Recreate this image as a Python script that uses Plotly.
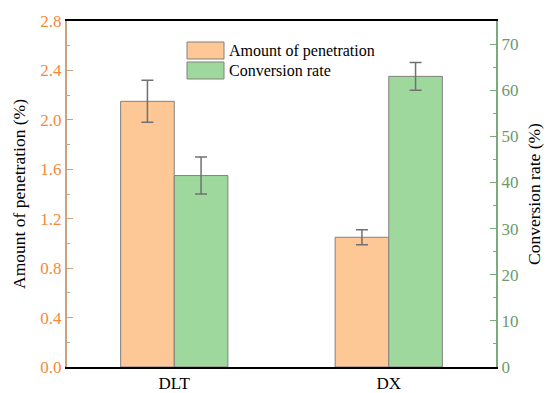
import plotly.graph_objects as go

categories = ["DLT", "DX"]
penetration = [2.15, 1.05]
penetration_err = [0.17, 0.06]
conversion = [41.5, 63.0]
conversion_err = [4.0, 3.0]
left_ticks = [0.0, 0.4, 0.8, 1.2, 1.6, 2.0, 2.4, 2.8]
right_ticks = [0, 10, 20, 30, 40, 50, 60, 70]

FONT = "Liberation Serif"
ORANGE_TXT = "#f5893a"
TAN_LINE = "#c9a47e"
GREEN_TXT = "#6a9a6a"
GREEN_LINE = "#7aab7a"
ORANGE_FILL = "#fdc896"
GREEN_FILL = "#9fd89c"
EDGE = "#808080"

fig = go.Figure()
fig.add_trace(go.Bar(
    x=categories, y=penetration, name="Amount of penetration",
    width=0.25, offset=-0.25,
    marker=dict(color=ORANGE_FILL, line=dict(color=EDGE, width=1)),
    error_y=dict(type="data", array=penetration_err, color="#707070", thickness=1.5, width=6),
    yaxis="y", showlegend=False,
))
fig.add_trace(go.Bar(
    x=categories, y=conversion, name="Conversion rate",
    width=0.25, offset=0,
    marker=dict(color=GREEN_FILL, line=dict(color=EDGE, width=1)),
    error_y=dict(type="data", array=conversion_err, color="#707070", thickness=1.5, width=6),
    yaxis="y2", showlegend=False,
))

W, H = 546, 393
L, R, T, B = 67, 496, 21, 367

fig.update_layout(
    width=W, height=H,
    margin=dict(l=L, r=W - R, t=T, b=H - B, pad=0, autoexpand=False),
    paper_bgcolor="white", plot_bgcolor="white",
    font=dict(family=FONT, size=16, color="black"),
    barmode="overlay",
    xaxis=dict(
        type="category", range=[-0.5, 1.5], automargin=False,
        showline=True, linecolor="black", linewidth=1.5, mirror=True,
        ticks="", showgrid=False, tickfont=dict(family=FONT, size=17, color="black"),
        zeroline=False,
    ),
    yaxis=dict(
        range=[0, 2.8], tickvals=left_ticks, automargin=False,
        ticktext=[f"{v:.1f}" for v in left_ticks],
        showline=True, linecolor=TAN_LINE, linewidth=2,
        ticks="inside", ticklen=6, tickcolor=TAN_LINE, tickwidth=1,
        minor=dict(dtick=0.2, ticks="inside", ticklen=3, tickcolor=TAN_LINE, showgrid=False),
        showgrid=False, zeroline=False,
        tickfont=dict(family=FONT, size=17, color=ORANGE_TXT),
        title=dict(text="Amount of penetration (%)", font=dict(family=FONT, size=17.5, color="black"), standoff=10),
    ),
    yaxis2=dict(
        range=[0, 75], tickvals=right_ticks, overlaying="y", side="right", automargin=False,
        showline=True, linecolor=GREEN_LINE, linewidth=2,
        ticks="inside", ticklen=6, tickcolor=GREEN_LINE, tickwidth=1,
        minor=dict(dtick=5, ticks="inside", ticklen=3, tickcolor=GREEN_LINE, showgrid=False),
        showgrid=False, zeroline=False,
        tickfont=dict(family=FONT, size=17, color=GREEN_TXT),
        title=dict(text="Conversion rate (%)", font=dict(family=FONT, size=17.5, color="black"), standoff=10),
    ),
)

def px_x(x):
    return (x - L) / (R - L)

def px_y(y):
    return (B - y) / (B - T)

legend_items = [("Amount of penetration", ORANGE_FILL, 42, 59), ("Conversion rate", GREEN_FILL, 62, 79)]
for label, color, y0, y1 in legend_items:
    fig.add_shape(type="rect", xref="paper", yref="paper",
                  x0=px_x(187), x1=px_x(224), y0=px_y(y1), y1=px_y(y0),
                  fillcolor=color, line=dict(color=EDGE, width=1))
    fig.add_annotation(xref="paper", yref="paper", x=px_x(227), y=px_y((y0 + y1) / 2),
                       text=label, showarrow=False, xanchor="left", yanchor="middle",
                       font=dict(family=FONT, size=16, color="black"))

fig.write_html("out.html")
